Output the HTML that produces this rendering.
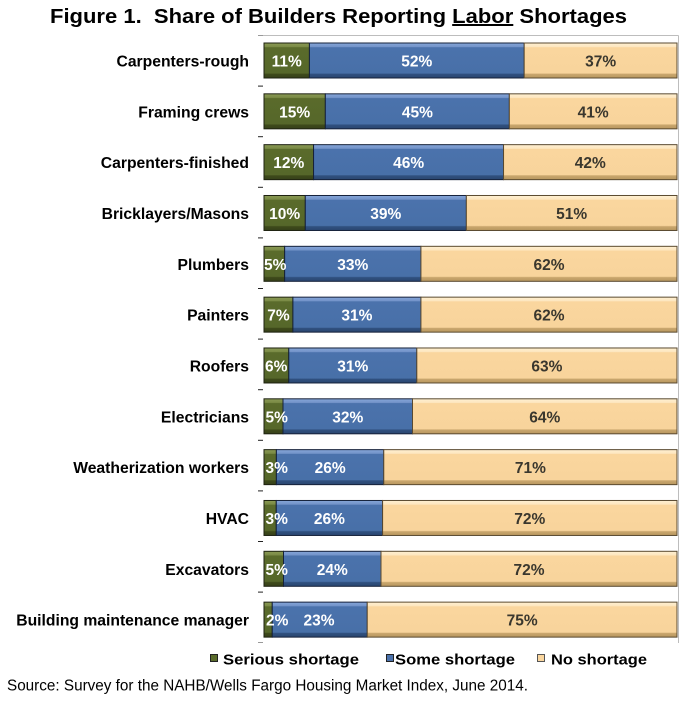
<!DOCTYPE html>
<html><head><meta charset="utf-8"><style>
html,body{margin:0;padding:0;background:#fff;}
svg{display:block;}
text{font-family:"Liberation Sans",Arial,sans-serif;}
.cat{font-size:15.7px;font-weight:bold;fill:#000;text-anchor:end;}
.w{font-size:15.5px;font-weight:bold;fill:#fff;text-anchor:middle;}
.ws{font-size:15.5px;font-weight:bold;fill:#fff;text-anchor:start;}
.d{font-size:15.5px;font-weight:bold;fill:#3a372e;text-anchor:middle;}
.g{fill:url(#gG);stroke:#1e2210;stroke-width:1;}
.b{fill:url(#gB);stroke:#15213a;stroke-width:1;}
.t{fill:url(#gT);stroke:#5a4a30;stroke-width:1;}
</style></head><body>
<svg width="695" height="705" viewBox="0 0 695 705" xmlns="http://www.w3.org/2000/svg">
<defs>
<linearGradient id="gG" x1="0" y1="0" x2="0" y2="1">
<stop offset="0" stop-color="#8a9a55"/><stop offset="0.11" stop-color="#7a8a45"/><stop offset="0.13" stop-color="#5a6b2b"/><stop offset="0.86" stop-color="#56672a"/><stop offset="0.89" stop-color="#3e4a1a"/><stop offset="1" stop-color="#36401a"/>
</linearGradient>
<linearGradient id="gB" x1="0" y1="0" x2="0" y2="1">
<stop offset="0" stop-color="#86a6d8"/><stop offset="0.11" stop-color="#7393c9"/><stop offset="0.13" stop-color="#4b72ac"/><stop offset="0.86" stop-color="#4870a8"/><stop offset="0.89" stop-color="#30507f"/><stop offset="1" stop-color="#2a4670"/>
</linearGradient>
<linearGradient id="gT" x1="0" y1="0" x2="0" y2="1">
<stop offset="0" stop-color="#fff0d2"/><stop offset="0.11" stop-color="#fde6bf"/><stop offset="0.13" stop-color="#fad69e"/><stop offset="0.86" stop-color="#f8d49c"/><stop offset="0.89" stop-color="#c9a66d"/><stop offset="1" stop-color="#b8975f"/>
</linearGradient>
</defs>

<!-- Title -->
<text x="50" y="23" font-size="20" font-weight="bold" textLength="577" lengthAdjust="spacingAndGlyphs" xml:space="preserve">Figure 1.  Share of Builders Reporting <tspan text-decoration="underline">Labor</tspan> Shortages</text>

<!-- plot border -->
<line x1="263" y1="35.5" x2="678.5" y2="35.5" stroke="#bdbdbd" stroke-width="1"/>
<line x1="678.5" y1="35.5" x2="678.5" y2="643" stroke="#bdbdbd" stroke-width="1"/>

<!-- ticks -->
<g stroke="#222" stroke-width="1">
<line x1="258" y1="35.5" x2="263" y2="35.5" stroke="#999"/>
<line x1="258" y1="86.1" x2="263" y2="86.1"/>
<line x1="258" y1="136.7" x2="263" y2="136.7"/>
<line x1="258" y1="187.3" x2="263" y2="187.3"/>
<line x1="258" y1="237.9" x2="263" y2="237.9"/>
<line x1="258" y1="288.5" x2="263" y2="288.5"/>
<line x1="258" y1="339.1" x2="263" y2="339.1"/>
<line x1="258" y1="389.7" x2="263" y2="389.7"/>
<line x1="258" y1="440.3" x2="263" y2="440.3"/>
<line x1="258" y1="490.9" x2="263" y2="490.9"/>
<line x1="258" y1="541.5" x2="263" y2="541.5"/>
<line x1="258" y1="592.1" x2="263" y2="592.1"/>
<line x1="258" y1="642.5" x2="263" y2="642.5" stroke="#999"/>
</g>

<!-- Category labels -->
<text class="cat" x="249" y="66.5">Carpenters-rough</text>
<text class="cat" x="249" y="117.3">Framing crews</text>
<text class="cat" x="249" y="168.2">Carpenters-finished</text>
<text class="cat" x="249" y="219">Bricklayers/Masons</text>
<text class="cat" x="249" y="269.8">Plumbers</text>
<text class="cat" x="249" y="320.7">Painters</text>
<text class="cat" x="249" y="371.5">Roofers</text>
<text class="cat" x="249" y="422.3">Electricians</text>
<text class="cat" x="249" y="473.1">Weatherization workers</text>
<text class="cat" x="249" y="524">HVAC</text>
<text class="cat" x="249" y="574.8">Excavators</text>
<text class="cat" x="249" y="625.6">Building maintenance manager</text>

<!-- Bars -->
<!-- r0 -->
<rect class="g" x="264" y="43" width="45.43" height="35"/>
<rect class="b" x="309.43" y="43" width="214.76" height="35"/>
<rect class="t" x="524.19" y="43" width="152.81" height="35"/>
<!-- r1 -->
<rect class="g" x="264" y="93.83" width="61.34" height="35"/>
<rect class="b" x="325.34" y="93.83" width="184.01" height="35"/>
<rect class="t" x="509.35" y="93.83" width="167.65" height="35"/>
<!-- r2 -->
<rect class="g" x="264" y="144.66" width="49.56" height="35"/>
<rect class="b" x="313.56" y="144.66" width="189.98" height="35"/>
<rect class="t" x="503.54" y="144.66" width="173.46" height="35"/>
<!-- r3 -->
<rect class="g" x="264" y="195.49" width="41.3" height="35"/>
<rect class="b" x="305.3" y="195.49" width="161.07" height="35"/>
<rect class="t" x="466.37" y="195.49" width="210.63" height="35"/>
<!-- r4 -->
<rect class="g" x="264" y="246.32" width="20.65" height="35"/>
<rect class="b" x="284.65" y="246.32" width="136.29" height="35"/>
<rect class="t" x="420.94" y="246.32" width="256.06" height="35"/>
<!-- r5 -->
<rect class="g" x="264" y="297.15" width="28.91" height="35"/>
<rect class="b" x="292.91" y="297.15" width="128.03" height="35"/>
<rect class="t" x="420.94" y="297.15" width="256.06" height="35"/>
<!-- r6 -->
<rect class="g" x="264" y="347.98" width="24.78" height="35"/>
<rect class="b" x="288.78" y="347.98" width="128.03" height="35"/>
<rect class="t" x="416.81" y="347.98" width="260.19" height="35"/>
<!-- r7 -->
<rect class="g" x="264" y="398.81" width="19" height="35"/>
<rect class="b" x="283" y="398.81" width="129.5" height="35"/>
<rect class="t" x="412.5" y="398.81" width="264.5" height="35"/>
<!-- r8 -->
<rect class="g" x="264" y="449.64" width="12.39" height="35"/>
<rect class="b" x="276.39" y="449.64" width="107.38" height="35"/>
<rect class="t" x="383.77" y="449.64" width="293.23" height="35"/>
<!-- r9 -->
<rect class="g" x="264" y="500.47" width="12.27" height="35"/>
<rect class="b" x="276.27" y="500.47" width="106.32" height="35"/>
<rect class="t" x="382.59" y="500.47" width="294.41" height="35"/>
<!-- r10 -->
<rect class="g" x="264" y="551.3" width="19.5" height="35"/>
<rect class="b" x="283.5" y="551.3" width="97.5" height="35"/>
<rect class="t" x="381" y="551.3" width="296" height="35"/>
<!-- r11 -->
<rect class="g" x="264" y="602.13" width="8.26" height="35"/>
<rect class="b" x="272.26" y="602.13" width="94.99" height="35"/>
<rect class="t" x="367.25" y="602.13" width="309.75" height="35"/>

<!-- Bar labels -->
<text class="w" x="286.7" y="66.5">11%</text><text class="w" x="416.8" y="66.5">52%</text><text class="d" x="600.6" y="66.5">37%</text>
<text class="w" x="294.7" y="117.3">15%</text><text class="w" x="417.4" y="117.3">45%</text><text class="d" x="593.2" y="117.3">41%</text>
<text class="w" x="288.8" y="168.2">12%</text><text class="w" x="408.6" y="168.2">46%</text><text class="d" x="590.3" y="168.2">42%</text>
<text class="w" x="284.7" y="219">10%</text><text class="w" x="385.8" y="219">39%</text><text class="d" x="571.7" y="219">51%</text>
<text class="ws" x="264" y="269.8">5%</text><text class="w" x="352.8" y="269.8">33%</text><text class="d" x="549" y="269.8">62%</text>
<text class="w" x="278.5" y="320.7">7%</text><text class="w" x="356.9" y="320.7">31%</text><text class="d" x="549" y="320.7">62%</text>
<text class="ws" x="265" y="371.5">6%</text><text class="w" x="352.8" y="371.5">31%</text><text class="d" x="546.9" y="371.5">63%</text>
<text class="ws" x="265.5" y="422.3">5%</text><text class="w" x="347.8" y="422.3">32%</text><text class="d" x="544.8" y="422.3">64%</text>
<text class="ws" x="265.5" y="473.1">3%</text><text class="w" x="330.1" y="473.1">26%</text><text class="d" x="530.4" y="473.1">71%</text>
<text class="ws" x="265.5" y="524">3%</text><text class="w" x="329.4" y="524">26%</text><text class="d" x="529.8" y="524">72%</text>
<text class="ws" x="265.5" y="574.8">5%</text><text class="w" x="332.3" y="574.8">24%</text><text class="d" x="529" y="574.8">72%</text>
<text class="ws" x="266" y="625.6">2%</text><text class="w" x="319" y="625.6">23%</text><text class="d" x="522.1" y="625.6">75%</text>

<!-- Legend -->
<rect x="210.5" y="654.5" width="7" height="7" fill="#5a6b2b" stroke="#222" stroke-width="1"/>
<text x="223" y="664.5" font-size="15" font-weight="bold" textLength="136" lengthAdjust="spacingAndGlyphs">Serious shortage</text>
<rect x="386.5" y="654.5" width="7" height="7" fill="#4b72ac" stroke="#222" stroke-width="1"/>
<text x="395" y="664.5" font-size="15" font-weight="bold" textLength="120" lengthAdjust="spacingAndGlyphs">Some shortage</text>
<rect x="537.5" y="654.5" width="7" height="7" fill="#fad69e" stroke="#555" stroke-width="1"/>
<text x="551" y="664.5" font-size="15" font-weight="bold" textLength="96" lengthAdjust="spacingAndGlyphs">No shortage</text>

<!-- Source -->
<text x="7" y="690.5" font-size="15.5" textLength="521" lengthAdjust="spacingAndGlyphs">Source: Survey for the NAHB/Wells Fargo Housing Market Index, June 2014.</text>
</svg>
</body></html>
